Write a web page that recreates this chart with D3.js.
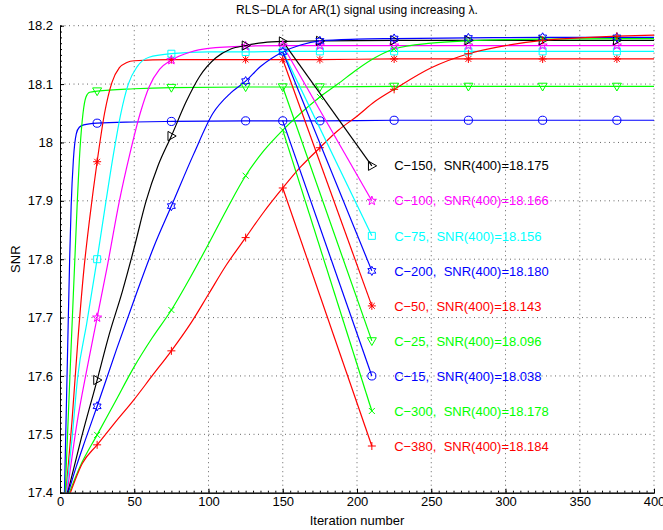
<!DOCTYPE html>
<html>
<head>
<meta charset="utf-8">
<script src="https://cdn.jsdelivr.net/npm/d3@7"></script>
<style>
  body { margin: 0; background: #fff; }
  svg { display: block; font-family: "Liberation Sans", Arial, Helvetica, sans-serif; }
</style>
</head>
<body>
<svg width="663" height="530"></svg>
<script>
// ---- data ----
const xTicks = [0, 50, 100, 150, 200, 250, 300, 350, 400];
const yTicks = [17.4, 17.5, 17.6, 17.7, 17.8, 17.9, 18, 18.1, 18.2];

const names   = ["C−15", "C−25", "C−50", "C−75", "C−100", "C−150", "C−200", "C−300", "C−380"];
const colors  = ["#0000ff", "#00ff00", "#ff0000", "#00ffff", "#ff00ff", "#000000", "#0000ff", "#00ff00", "#ff0000"];
const markers = ["o", "v", "*", "s", "p", ">", "h", "x", "+"];
const snr400  = ["18.038", "18.096", "18.143", "18.156", "18.166", "18.175", "18.180", "18.178", "18.184"];

// iteration where marks sit on every curve
const markerIters = [25, 75, 125, 175, 225, 275, 325, 375];

// [iteration, SNR] points for each curve
const c15 = [[3,17.4],[5,17.63],[6.5,17.8],[7.5,17.89],[9,17.97],[11,18.015],[13,18.026],[16,18.03],[25,18.033],
  [50,18.035],[75,18.036],[125,18.037],[150,18.037],[175,18.037],[225,18.038],[275,18.038],[325,18.038],[375,18.038],[400,18.038]];
const c25 = [[3.5,17.4],[7,17.62],[10,17.8],[11.5,17.89],[13.5,17.99],[15.5,18.05],[17.5,18.078],[20,18.086],[25,18.088],
  [50,18.092],[75,18.094],[125,18.095],[150,18.095],[175,18.095],[225,18.096],[275,18.096],[325,18.096],[375,18.096],[400,18.096]];
const c50 = [[4,17.4],[8,17.52],[12,17.66],[16,17.78],[20,17.87],[25,17.967],[30,18.05],[35,18.103],[40,18.128],[45,18.137],
  [50,18.14],[75,18.142],[125,18.142],[150,18.142],[175,18.142],[225,18.143],[275,18.143],[325,18.143],[375,18.143],[400,18.143]];
const c75 = [[4.3,17.4],[8,17.49],[12,17.6],[18,17.69],[25,17.8],[31,17.9],[36,17.98],[41,18.05],[46,18.1],[52,18.13],[60,18.146],
  [75,18.152],[100,18.155],[125,18.155],[150,18.156],[175,18.156],[225,18.156],[275,18.156],[325,18.156],[375,18.156],[400,18.156]];
const c100 = [[4.8,17.4],[11.5,17.52],[18,17.61],[25,17.7],[32,17.79],[40,17.9],[47,17.98],[54,18.05],[60,18.095],[67,18.125],
  [75,18.141],[88,18.155],[100,18.161],[125,18.165],[150,18.166],[175,18.166],[225,18.166],[275,18.166],[325,18.166],[375,18.166],[400,18.166]];
const c150 = [[5.2,17.4],[14,17.49],[25,17.593],[33,17.67],[42,17.745],[50,17.82],[58,17.9],[66,17.96],[75,18.011],[85,18.07],
  [94,18.113],[105,18.145],[115,18.16],[125,18.166],[137,18.171],[150,18.173],[175,18.174],[225,18.175],[275,18.175],[325,18.175],[375,18.175],[400,18.175]];
const c200 = [[5.6,17.4],[11,17.445],[17,17.49],[25,17.548],[38,17.645],[52,17.745],[63,17.82],[75,17.891],[90,17.98],[103,18.05],
  [115,18.085],[125,18.105],[135,18.13],[150,18.155],[162,18.167],[175,18.174],[200,18.177],[225,18.178],[275,18.179],[325,18.18],[375,18.18],[400,18.18]];
const c300 = [[6.3,17.4],[13.5,17.445],[25,17.499],[37,17.555],[50,17.616],[62,17.665],[75,17.713],[88,17.77],[100,17.826],[112,17.884],
  [125,17.943],[137,17.985],[150,18.021],[162,18.05],[175,18.078],[187,18.1],[200,18.125],[212,18.145],[225,18.16],[250,18.17],
  [275,18.174],[300,18.176],[325,18.177],[375,18.178],[400,18.178]];
const c380 = [[7,17.4],[15,17.45],[25,17.482],[37,17.52],[50,17.56],[62,17.6],[75,17.643],[88,17.69],[100,17.74],[112,17.79],
  [125,17.837],[137,17.88],[150,17.922],[162,17.958],[175,17.991],[187,18.02],[200,18.045],[212,18.07],[225,18.091],[250,18.128],
  [275,18.152],[300,18.166],[325,18.175],[350,18.179],[375,18.182],[400,18.184]];
const curves = [c15, c25, c50, c75, c100, c150, c200, c300, c380];

// annotation: order from top, and the SNR level of each label
const legendOrder = [5, 4, 3, 6, 2, 1, 0, 7, 8];
const legendSNR   = [17.96, 17.90, 17.84, 17.78, 17.72, 17.66, 17.60, 17.54, 17.48];
const leaderFrom = 150, leaderTo = 210, labelAt = 225;

// ---- layout ----
const svg = d3.select("svg"),
      margin = {top: 25.7, right: 9, bottom: 37.3, left: 60},
      width = 663 - margin.left - margin.right,
      height = 530 - margin.top - margin.bottom;

const x = d3.scaleLinear().domain([0, 400]).range([0, width]);
const y = d3.scaleLinear().domain([17.4, 18.2]).range([height, 0]);

const g = svg.append("g").attr("transform", "translate(" + margin.left + "," + margin.top + ")");

g.append("clipPath").attr("id", "plot")
  .append("rect").attr("width", width).attr("height", height);

// dotted grid
g.append("g").selectAll("line").data(xTicks.slice(1)).enter().append("line")
  .attr("x1", d => x(d)).attr("x2", d => x(d)).attr("y1", 0).attr("y2", height)
  .attr("stroke", "#555").attr("stroke-dasharray", "1,3.5").attr("stroke-width", 0.9);
g.append("g").selectAll("line").data(yTicks.slice(1)).enter().append("line")
  .attr("x1", 0).attr("x2", width).attr("y1", d => y(d)).attr("y2", d => y(d))
  .attr("stroke", "#555").attr("stroke-dasharray", "1,3.5").attr("stroke-width", 0.9);

// marker shapes
function markerPath(m) {
  switch (m) {
    case "o": return d3.symbol(d3.symbolCircle, 52)();
    case "s": return "M-3.5,-3.5H3.5V3.5H-3.5Z";
    case "v": return "M-4.5,-3.2L4.5,-3.2L0,4.6Z";
    case ">": return "M-3.4,-4.6L4.8,0L-3.4,4.6Z";
    case "x": return "M-3,-3L3,3M-3,3L3,-3";
    case "+": return "M-4,0H4M0,-4V4";
    case "*": return "M-4,0H4M0,-4V4M-2.9,-2.9L2.9,2.9M-2.9,2.9L2.9,-2.9";
    case "p": {
      const pts = d3.range(10).map(i => {
        const r = i % 2 ? 1.9 : 4.8, a = -Math.PI / 2 + i * Math.PI / 5;
        return [r * Math.cos(a), r * Math.sin(a)];
      });
      return "M" + pts.join("L") + "Z";
    }
    case "h": {
      const pts = d3.range(12).map(i => {
        const r = i % 2 ? 2.6 : 4.6, a = -Math.PI / 2 + i * Math.PI / 6;
        return [r * Math.cos(a), r * Math.sin(a)];
      });
      return "M" + pts.join("L") + "Z";
    }
  }
}

const line = d3.line().x(d => x(d[0])).y(d => y(d[1])).curve(d3.curveMonotoneX);

const plot = g.append("g").attr("clip-path", "url(#plot)");

curves.forEach((c, i) => {
  plot.append("path").datum(c)
    .attr("fill", "none").attr("stroke", colors[i]).attr("stroke-width", 1.2)
    .attr("d", line);
});

curves.forEach((c, i) => {
  plot.append("g").selectAll("path")
    .data(c.filter(d => markerIters.includes(d[0])))
    .enter().append("path")
    .attr("transform", d => "translate(" + x(d[0]) + "," + y(d[1]) + ")")
    .attr("d", markerPath(markers[i]))
    .attr("fill", "none").attr("stroke", colors[i]).attr("stroke-width", 1);
});

// leader lines and labels
legendOrder.forEach((s, k) => {
  const start = curves[s].find(d => d[0] === leaderFrom);
  const ends = [start, [leaderTo, legendSNR[k]]];
  g.append("path").datum(ends)
    .attr("fill", "none").attr("stroke", colors[s]).attr("stroke-width", 1.2)
    .attr("d", d3.line().x(d => x(d[0])).y(d => y(d[1])));
  g.append("g").selectAll("path").data(ends).enter().append("path")
    .attr("transform", d => "translate(" + x(d[0]) + "," + y(d[1]) + ")")
    .attr("d", markerPath(markers[s]))
    .attr("fill", "none").attr("stroke", colors[s]).attr("stroke-width", 1);
  g.append("text")
    .attr("x", x(labelAt)).attr("y", y(legendSNR[k])).attr("dy", "0.36em")
    .attr("fill", colors[s]).attr("font-size", 13).style("white-space", "pre")
    .text(names[s] + ",  SNR(400)=" + snr400[s]);
});

// axes (ticks inward, minor ticks)
const xMinor = d3.axisBottom(x).tickValues(d3.range(0, 401, 5)).tickSize(-2).tickFormat("");
const yMinor = d3.axisLeft(y).tickValues(d3.range(0, 81).map(i => 17.4 + i * 0.01)).tickSize(-2).tickFormat("");
g.append("g").attr("transform", "translate(0," + height + ")").call(xMinor);
g.append("g").call(yMinor);

const xAxis = d3.axisBottom(x).tickValues(xTicks).tickSize(-4).tickSizeOuter(0).tickPadding(4);
const yAxis = d3.axisLeft(y).tickValues(yTicks).tickSize(-4).tickSizeOuter(0).tickPadding(7)
  .tickFormat(d3.format("~g"));
const gx = g.append("g").attr("transform", "translate(0," + height + ")").call(xAxis);
const gy = g.append("g").call(yAxis);
[gx, gy].forEach(a => {
  a.selectAll("text").attr("font-size", 13).attr("fill", "#000").attr("font-family", null);
  a.selectAll("line,path").attr("stroke", "#000");
});
g.selectAll(".domain").attr("stroke", "#000");

// titles
svg.append("text").attr("x", margin.left + width / 2).attr("y", 14)
  .attr("text-anchor", "middle").attr("font-size", 12)
  .text("RLS−DLA for AR(1) signal using increasing λ.");
svg.append("text").attr("x", margin.left + width / 2).attr("y", 524.5)
  .attr("text-anchor", "middle").attr("font-size", 13).text("Iteration number");
svg.append("text").attr("transform", "translate(20," + (margin.top + height / 2) + ") rotate(-90)")
  .attr("text-anchor", "middle").attr("font-size", 13).text("SNR");
</script>
</body>
</html>
